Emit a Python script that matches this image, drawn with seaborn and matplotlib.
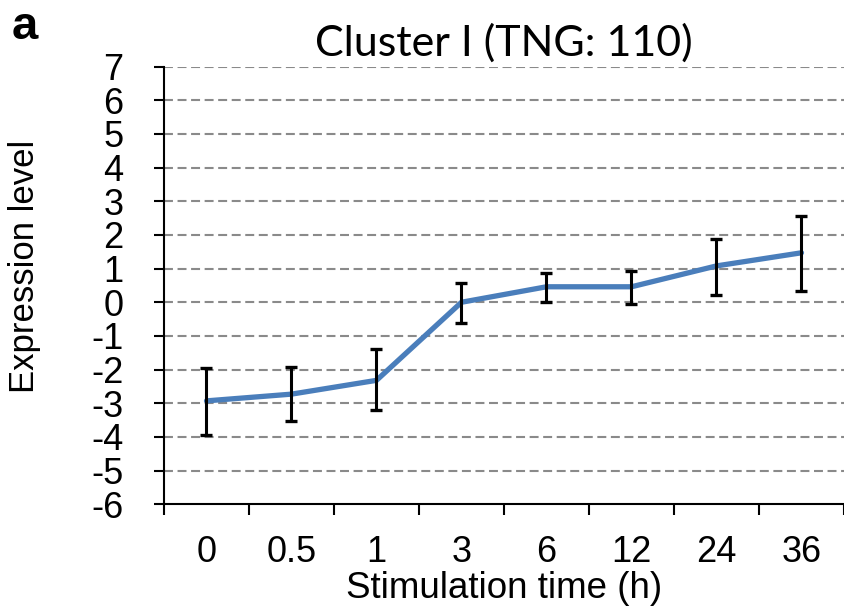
import matplotlib
matplotlib.use("Agg")
import matplotlib.pyplot as plt
import seaborn as sns
import pandas as pd
import numpy as np
from matplotlib.ticker import FixedLocator

times = ["0", "0.5", "1", "3", "6", "12", "24", "36"]
mean_expr = [-2.93, -2.73, -2.32, 0.0, 0.46, 0.46, 1.08, 1.47]
err_upper = [0.98, 0.82, 0.92, 0.56, 0.41, 0.48, 0.79, 1.09]
err_lower = [1.02, 0.79, 0.88, 0.62, 0.45, 0.51, 0.86, 1.13]
ytick_vals = list(range(-6, 8))

df = pd.DataFrame({"time": times, "expr": mean_expr})

sns.set_theme(style="white")
base = ["Liberation Sans", "DejaVu Sans"]
plt.rcParams["font.family"] = base
plt.rcParams["text.color"] = "black"
plt.rcParams["axes.labelcolor"] = "black"
plt.rcParams["xtick.color"] = "black"
plt.rcParams["ytick.color"] = "black"

fig = plt.figure(figsize=(8.44, 6.06), dpi=100)
ax = fig.add_axes([0.1943, 0.168, 0.8057, 0.722])

ax.set_ylim(-6, 7)
ax.set_xlim(-0.5, 7.5)
for v in range(-5, 8):
    ax.axhline(v, color="#8A8A8A", lw=1.5, ls=(0, (4.3, 2.2)), zorder=0)

sns.lineplot(data=df, x="time", y="expr", sort=False, color="#4A7EBB",
             lw=3.8, ax=ax, zorder=3)
xpos = np.arange(len(times))
ax.errorbar(xpos, mean_expr, yerr=[err_lower, err_upper], fmt="none",
            ecolor="black", elinewidth=2.2, capsize=4.4, capthick=2.4, zorder=4)

ax.set_yticks(ytick_vals)
ax.set_yticklabels([str(v) for v in ytick_vals])
ax.set_xticks(xpos)
ax.set_xticklabels(times)
ax.xaxis.set_minor_locator(FixedLocator(np.arange(-0.5, 8, 1)))
ax.tick_params(axis="x", which="major", length=0, labelsize=26, pad=22, labelcolor="black")
ax.tick_params(axis="x", which="minor", length=8, width=1.5, color="black", bottom=True)
ax.tick_params(axis="y", length=7.2, width=1.5, color="black", labelsize=26, pad=22,
               left=True, labelcolor="black")

for s in ["top", "right"]:
    ax.spines[s].set_visible(False)
for s in ["left", "bottom"]:
    ax.spines[s].set_color("black")
    ax.spines[s].set_linewidth(1.5)

ax.set_xlabel("Stimulation time (h)", fontsize=26.5, labelpad=1, color="black")
ax.set_ylabel("Expression level", fontsize=25, color="black")
ax.yaxis.set_label_coords(-0.181, 0.543)
ax.set_title("Cluster I (TNG: 110)", fontsize=31, family=["Lato", "DejaVu Sans"], pad=8,
             color="black")
fig.text(0.014, 0.9356, "a", fontsize=34, fontweight="bold", va="baseline", color="black",
         family=["Liberation Sans", "DejaVu Sans"])

fig.savefig("out.png", dpi=100)
